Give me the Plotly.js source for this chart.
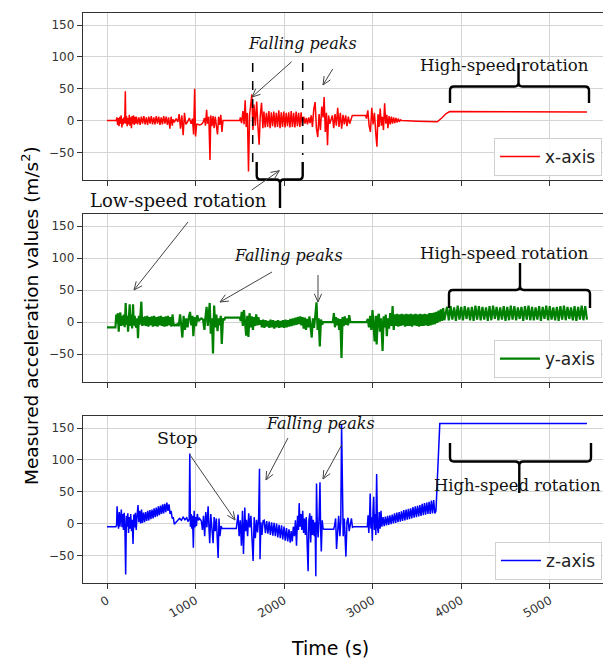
<!DOCTYPE html>
<html>
<head>
<meta charset="utf-8">
<script src="https://cdn.plot.ly/plotly-3.0.1.min.js"></script>
<style>html,body{margin:0;padding:0;overflow:hidden;background:#fff}#chart{width:603px;height:660px}</style>
</head>
<body>
<div id="chart"></div>
<script>
// ---------- data (time in s, acceleration in m/s^2) ----------
const seriesNames = ["x-axis", "y-axis", "z-axis"];
const seriesColors = ["#ff0000", "#008000", "#0000ff"];
const xTickValues = [0, 1000, 2000, 3000, 4000, 5000];
const yTickValues = [-50, 0, 50, 100, 150];
const yTickLabels = ["\u221250", "0", "50", "100", "150"];

const xAxisTime = [
  0,
  105,112,120,128,136,144,152,160,168,176,184,192,200,207,212,220,228,236,244,252,260,268,276,284,292,300,308,316,324,
  332,346,360,374,388,402,416,430,444,458,472,486,500,514,528,542,556,570,584,598,612,626,640,654,668,682,696,710,724,738,
  745,760,780,800,815,830,845,860,875,890,910,930,950,965,978,990,1000,1012,
  1025,1045,1065,1085,1100,1112,1125,1135,1150,1163,1172,1185,1198,1210,1222,1235,1248,1260,1272,1285,1298,1310,
  1500,
  1505,1520,1535,1548,1560,1572,1585,1598,1610,1622,1635,1648,1660,1675,1690,1705,1718,1730,1745,1760,
  1772,1786,1800,1814,1828,1842,1856,1870,1884,1898,1912,1926,1940,1954,1968,1982,1996,2010,2024,2038,2052,2066,2080,2094,2108,2122,2136,2150,2164,2178,2192,2206,
  2222,2236,2250,2264,2278,2292,2306,2320,2335,2350,2365,2380,2395,2410,2425,2440,2452,2465,2478,2490,2502,2515,
  2530,2545,2560,2575,2590,2605,2620,2635,2650,2665,2680,2695,2710,2725,2740,2755,
  2770,2920,
  2930,2945,2960,2975,2990,3005,3020,3035,3048,3060,3072,3085,3098,3110,3122,3135,3148,3160,3172,
  3185,3198,3211,3224,3237,3250,3263,3276,3289,3302,3315,
  3330,3500,3710,
  3730,3780,3830,3870,3900,3950,
  4050,4200,4400,4600,4800,5000,5200,5420
];
const xAxisAccel = [
  0,
  0,5,-7,4,-9,6,-5,8,-11,3,-6,5,-4,46,-5,7,-9,4,-6,9,-8,5,-12,7,-5,8,-7,6,-5,
  6,-6,5,-7,6,-5,7,-6,5,-7,6,-5,7,-6,5,-6,7,-5,6,-7,5,-6,7,-5,6,-7,5,-13,6,-8,
  2,-3,3,-2,10,-13,8,-23,12,-6,-2,4,-5,3,-22,50,-25,-6,
  -6,-7,-6,-3,4,-8,17,-5,6,-62,8,-9,7,-12,6,-8,-22,6,-7,9,-18,0,
  0,
  5,-4,15,-6,32,-10,12,-80,8,20,41,-15,25,-8,30,-10,-38,6,28,-12,
  14,-11,12,-10,15,-12,13,-9,14,-11,12,-10,16,-12,13,-10,14,-11,12,-9,13,-11,15,-10,12,-11,14,-9,12,-10,13,-8,
  6,-5,4,-6,5,-4,8,-10,18,29,-12,-26,10,-15,22,5,37,-18,12,-39,8,-5,
  0,8,-12,10,-8,20,-10,12,-13,9,-6,8,-9,6,-5,3,
  8,8,
  3,16,-8,-18,20,-6,12,-20,-41,10,-10,19,-8,6,-15,27,-5,9,-12,
  7,-6,6,-5,5,-4,4,-3,3,-2,1,
  0,-1,-2,
  -2,4,11,14,14,13,
  13,13.5,13,13.4,12.9,13.3,13,13.2
];

const yAxisTime = [
  0,92,
  95,105,114,123,132,142,151,160,170,181,190,200,211,220,229,238,247,256,265,275,284,294,303,313,322,332,341,350,360,369,378,388,397,407,416,
  428,441,454,467,480,493,506,519,532,545,558,571,584,597,610,623,636,649,662,675,688,701,714,727,740,753,
  765,780,795,810,825,838,851,865,880,895,910,925,938,952,965,975,990,1005,1020,1035,1050,1065,
  1085,1100,1112,1125,1138,1150,1160,1172,1185,1197,1210,1222,1235,1248,1260,1272,1285,1296,1310,1322,
  1335,1500,
  1510,1522,1534,1546,1558,1572,1584,1597,1610,1622,1635,1648,1660,1672,1685,1698,1710,1722,
  1735,1749,1763,1777,1791,1805,1819,1833,1847,1861,1875,1889,1903,1917,1931,1945,1959,1973,1987,2001,2015,2029,2043,2057,2071,2085,2099,2113,2127,2141,2155,2169,2183,
  2195,2208,2221,2234,2247,2260,2273,2286,2299,2312,2325,2338,2352,2366,2378,2390,2403,2416,2430,
  2440,2550,2562,2574,2586,2598,2610,2622,2635,2648,2660,2672,2685,2698,2710,2722,2735,2748,
  2930,
  2945,2958,2972,2985,2998,3010,3022,3035,3045,3058,3070,3082,3095,3112,3124,3136,3148,3160,3172,3185,3198,3212,3225,3238,
  3250,3263,3276,3289,3302,3315,3328,3341,3354,3367,3380,3393,3406,3419,3432,3445,3458,3471,3484,3497,3510,3523,3536,3549,3562,3575,3588,3601,3614,3627,3640,3653,3666,3679,
  3692,3705,3718,3731,3744,3757,3770,3783,3796,3809,
  3840,3860,3880,3900,3920,3940,3960,3980,4000,4020,
  4040,4060,4080,4100,4120,4140,4160,4180,4200,4220,
  4240,4260,4280,4300,4320,4340,4360,4380,4400,4420,
  4440,4460,4480,4500,4520,4540,4560,4580,4600,4620,
  4640,4660,4680,4700,4720,4740,4760,4780,4800,4820,
  4840,4860,4880,4900,4920,4940,4960,4980,5000,5020,
  5040,5060,5080,5100,5120,5140,5160,5180,5200,5220,
  5240,5260,5280,5300,5320,5340,5360,5380,5400,5420
];
const yAxisAccel = [
  -8,-8,
  -8,12,-2,14,-15,8,15,-6,10,-5,12,-8,30,-4,10,-15,8,28,-6,12,-10,28,-5,10,-6,-8,6,-25,10,-4,12,32,-6,8,-5,
  9,-6,10,-7,8,-5,9,-7,10,-6,8,-7,9,-5,10,-6,8,-7,9,-6,10,-5,8,-7,12,-6,
  -4,-5,-3,-6,12,-4,-24,10,-12,6,-8,8,16,-5,10,-22,8,-6,11,2,5,6,
  4,-12,8,24,-6,12,30,-18,6,-49,26,-8,12,-14,6,-5,10,-34,6,3,
  7,7,
  2,16,-6,19,-4,-21,10,-23,14,-8,9,-12,8,-6,12,-5,8,-4,
  3,-8,4,-9,3,-7,2,-9,4,-8,3,-10,2,-8,3,-9,2,-8,3,-9,4,-8,3,-7,5,-6,6,-5,7,-4,8,-3,9,
  -5,8,-10,7,-12,5,-8,9,-6,-24,6,-9,10,31,-12,6,-38,4,-4,
  0,0,14,-8,8,-5,6,-12,5,-56,8,-6,9,-4,6,-5,11,0,
  0,
  5,-8,10,-12,19,-6,-30,10,-35,8,13,-15,6,-45,9,-8,12,-22,6,-10,14,-6,25,-12,
  12,-6,13,-7,12,-6,13,-5,12,-7,13,-6,12,-6,13,-7,12,-5,13,-6,12,-7,13,-6,12,-6,13,-5,12,-6,14,-5,14,-4,
  15,-3,16,-1,18,1,20,2,22,3,
  24,3,25,4,23,2,26,4,24,3,
  25,5,23,3,24,2,26,4,25,3,
  24,4,23,2,25,3,26,5,24,3,
  23,4,25,2,24,3,26,4,25,3,
  23,5,24,2,25,4,26,3,24,3,
  23,4,25,2,24,5,26,3,25,4,
  23,3,24,2,25,4,26,3,24,5,
  23,3,25,2,24,4,26,3,25,4
];

const zAxisTime = [
  0,100,
  108,114,122,130,138,146,154,162,170,178,186,194,202,211,219,227,235,243,251,260,268,277,285,294,303,312,321,330,340,350,360,370,380,390,
  400,412,424,436,448,460,472,484,496,508,520,532,544,556,568,580,592,604,616,628,640,652,664,676,688,
  700,712,724,736,748,760,780,800,820,840,860,880,900,915,928,
  935,942,950,958,966,975,984,992,1000,1010,1020,1032,1044,1056,
  1065,1078,1090,1103,1115,1128,1142,1152,1160,1172,1185,1198,1210,1222,1235,1245,1255,1265,1275,1288,
  1300,1460,
  1468,1480,1492,1505,1518,1530,1541,1550,1556,1565,1575,1588,1600,1612,1625,1638,1650,1662,1675,1688,1700,1712,1722,1728,1738,1750,1762,
  1775,1789,1803,1817,1831,1845,1859,1873,1887,1901,1915,1929,1943,1957,1971,1985,1999,2013,2027,2041,2055,2069,
  2080,2092,2104,2116,2128,2140,2152,2162,2170,2180,
  2190,2200,2210,2220,2230,2240,2250,2260,2271,2280,2290,2300,2310,2320,2330,2340,2350,2358,2366,2375,2384,2395,2405,2412,2420,2430,2440,
  2450,2560,
  2570,2582,2592,2604,2616,2630,2640,2649,2658,2667,2680,2690,2698,2710,2722,2735,2748,2760,2772,
  2785,2940,
  2948,2956,2964,2972,2980,2988,2996,3004,3012,3020,3028,3036,3045,3054,3064,3074,3084,3094,
  3104,3117,3130,3143,3156,3169,3182,3195,3208,3221,3234,3247,3260,3273,3286,3299,3312,3325,3338,3351,3364,3377,3390,3403,3416,3429,3442,3455,3468,3481,3494,3507,3520,3533,3546,3559,3572,3585,3598,3611,3624,3637,3650,3663,3676,3689,3702,
  3715,3758,5420
];
const zAxisAccel = [
  -5,-5,
  -3,27,5,-8,18,-5,10,22,-6,15,-10,17,-4,-80,12,-5,16,-15,10,-8,15,-12,6,-32,14,-6,17,-10,12,29,2,20,0,22,
  1,17,2,18,4,20,5,21,7,22,8,24,10,25,11,27,13,28,15,30,16,31,18,33,20,
  30,15,20,8,10,-1,3,5,8,5,10,6,9,3,7,
  110,-5,15,-8,12,-38,20,-6,10,-4,15,5,8,6,
  4,-10,12,-20,18,-6,27,-8,-31,15,-4,-31,10,-12,8,-20,-54,8,-20,-4,
  -8,-8,
  2,14,-20,5,-35,20,-48,8,25,-12,6,-20,16,-6,12,-25,-59,10,-23,6,-14,8,86,-56,2,-18,4,
  5,-15,4,-16,3,-18,2,-19,1,-20,0,-22,-2,-23,-3,-25,-5,-27,-7,-28,-9,-30,
  -12,-28,-5,-20,5,-35,12,-10,32,-5,
  15,-10,20,-15,8,-18,10,-25,-75,5,16,-30,12,-18,6,-20,2,-83,63,-5,-22,10,65,-8,-44,5,-8,
  -9,-9,
  -3,8,-40,-2,12,-20,5,155,-5,-20,8,-15,-52,3,9,-12,-4,8,-6,
  -5,-5,
  13,-15,5,47,-8,10,-27,20,42,-10,15,-18,78,-6,-15,18,-8,20,
  -5,10,-4,11,-3,12,-2,13,-1,14,0,16,1,17,2,18,3,19,4,21,5,22,6,23,7,24,8,26,9,27,10,28,11,29,12,31,13,32,14,33,15,34,15,36,16,37,16,
  20,157,157
];

// ---------- geometry helpers (pixel -> paper) for annotations ----------
const ML = 83, MT = 13, PW = 520, PH = 570;
function P(px, py) { return [(px - ML) / PW, (MT + PH - py) / PH]; }
function pt(px, py) { const p = P(px, py); return p[0].toFixed(5) + "," + p[1].toFixed(5); }

function arrowShape(tx, ty, hx, hy) {
  const a = Math.atan2(hy - ty, hx - tx), L = 9, w = 0.42;
  const a1x = hx - L * Math.cos(a - w), a1y = hy - L * Math.sin(a - w);
  const a2x = hx - L * Math.cos(a + w), a2y = hy - L * Math.sin(a + w);
  return {type: "path", xref: "paper", yref: "paper",
    path: "M" + pt(tx, ty) + " L" + pt(hx, hy) + " M" + pt(a1x, a1y) + " L" + pt(hx, hy) + " L" + pt(a2x, a2y),
    line: {color: "#444444", width: 1}};
}
function braceShape(xl, xr, yEnd, yLine, xs, yStem) {
  const r = 4, d = Math.sign(yLine - yEnd), s = Math.sign(yStem - yLine);
  const path =
    "M" + pt(xl, yEnd) + " L" + pt(xl, yLine - d * r) + " Q" + pt(xl, yLine) + " " + pt(xl + r, yLine) +
    " L" + pt(xs - r, yLine) + " Q" + pt(xs, yLine) + " " + pt(xs, yLine + s * r) + " L" + pt(xs, yStem) +
    " M" + pt(xr, yEnd) + " L" + pt(xr, yLine - d * r) + " Q" + pt(xr, yLine) + " " + pt(xr - r, yLine) +
    " L" + pt(xs + r, yLine) + " Q" + pt(xs, yLine) + " " + pt(xs, yLine + s * r);
  return {type: "path", xref: "paper", yref: "paper", path: path, line: {color: "#000000", width: 2.4}};
}
function dashShape(px, py0, py1) {
  const a = P(px, py0), b = P(px, py1);
  return {type: "line", xref: "paper", yref: "paper", x0: a[0], y0: a[1], x1: b[0], y1: b[1],
    line: {color: "#000000", width: 1.5, dash: "dash"}};
}
function label(text, px, py, size, opts) {
  const p = P(px, py);
  return Object.assign({xref: "paper", yref: "paper", x: p[0], y: p[1], text: text, showarrow: false,
    xanchor: "center", yanchor: "middle",
    font: {family: "DejaVu Serif", size: size, color: "#111111"}}, opts || {});
}

// ---------- traces ----------
const traces = [
  {x: xAxisTime, y: xAxisAccel, xaxis: "x", yaxis: "y", legend: "legend"},
  {x: yAxisTime, y: yAxisAccel, xaxis: "x2", yaxis: "y2", legend: "legend2"},
  {x: zAxisTime, y: zAxisAccel, xaxis: "x3", yaxis: "y3", legend: "legend3"}
].map((t, i) => Object.assign(t, {
  type: "scatter", mode: "lines", name: seriesNames[i],
  line: {color: seriesColors[i], width: i === 1 ? 2.2 : 1.5}, showlegend: true
}));

const tickFont = {family: "DejaVu Sans", size: 12, color: "#333333"};
function xAx(anchor, labels) {
  return {anchor: anchor, domain: [0, 1], range: [-271, 5601], tickvals: xTickValues,
    ticktext: xTickValues.map(String), showticklabels: labels, tickangle: -30,
    ticks: "outside", ticklen: 5, tickcolor: "#333", tickwidth: 1,
    showline: true, mirror: true, linecolor: "#333", linewidth: 1.2,
    showgrid: true, gridcolor: "#d4d4d4", gridwidth: 1, zeroline: false, tickfont: tickFont};
}
function yAx(anchor, domain) {
  return {anchor: anchor, domain: domain, range: [-93.5, 169], tickvals: yTickValues, ticktext: yTickLabels,
    ticks: "outside", ticklen: 5, tickcolor: "#333", tickwidth: 1,
    showline: true, mirror: false, linecolor: "#333", linewidth: 1.2,
    showgrid: true, gridcolor: "#d4d4d4", gridwidth: 1, zeroline: false, tickfont: tickFont};
}
function leg(topPx) {
  return {x: 0.998, xanchor: "right", y: P(0, topPx)[1], yanchor: "top", itemwidth: 40,
    bgcolor: "rgba(255,255,255,0.85)", bordercolor: "#d0d0d0", borderwidth: 1,
    font: {family: "DejaVu Sans", size: 17, color: "#222222"}};
}

const shapes = [
  dashShape(252.7, 63, 163), dashShape(302.7, 63, 155),
  braceShape(256.7, 302.7, 162, 179.5, 280, 208),
  braceShape(450, 589, 103, 86.5, 518.5, 63),
  braceShape(449, 590, 308, 290, 520, 263),
  braceShape(450, 591, 443, 461.5, 519.3, 493),
  arrowShape(291.7, 61.7, 252, 97),
  arrowShape(332.7, 69, 323, 85),
  arrowShape(251.7, 190, 279.3, 170.7),
  arrowShape(188, 222, 134, 290),
  arrowShape(272, 272, 220, 302),
  arrowShape(318, 275, 318, 302),
  arrowShape(190, 455, 235, 520),
  arrowShape(288, 438, 266, 480),
  arrowShape(341.7, 445, 323, 479)
];

const annotations = [
  label("<i>Falling peaks</i>", 302, 44, 16),
  label("High-speed rotation", 504, 66, 16.6),
  label("Low-speed rotation", 178, 200, 18),
  label("<i>Falling peaks</i>", 288, 255, 16),
  label("High-speed rotation", 504, 253, 16.6),
  label("Stop", 177, 438, 17.5),
  label("<i>Falling peaks</i>", 320, 423, 16),
  label("High-speed rotation", 517, 485, 16.4),
  Object.assign(label("Measured acceleration values (m/s<sup>2</sup>)", 30, 316, 18.5), {textangle: -90,
    font: {family: "DejaVu Sans", size: 18.5, color: "#000000"}}),
  Object.assign(label("Time (s)", 330, 648, 19), {font: {family: "DejaVu Sans", size: 19, color: "#000000"}})
];

const layout = {
  width: 603, height: 660,
  margin: {l: ML, r: 0, t: MT, b: 660 - MT - PH, pad: 0},
  paper_bgcolor: "#ffffff", plot_bgcolor: "#ffffff",
  xaxis: xAx("y", false), yaxis: yAx("x", [0.707, 1]),
  xaxis2: xAx("y2", false), yaxis2: yAx("x2", [0.3526, 0.6474]),
  xaxis3: xAx("y3", true), yaxis3: yAx("x3", [0, 0.293]),
  legend: leg(138), legend2: leg(340), legend3: leg(542),
  shapes: shapes, annotations: annotations, hovermode: false
};

Plotly.newPlot("chart", traces, layout, {staticPlot: true, displayModeBar: false});
</script>
</body>
</html>
